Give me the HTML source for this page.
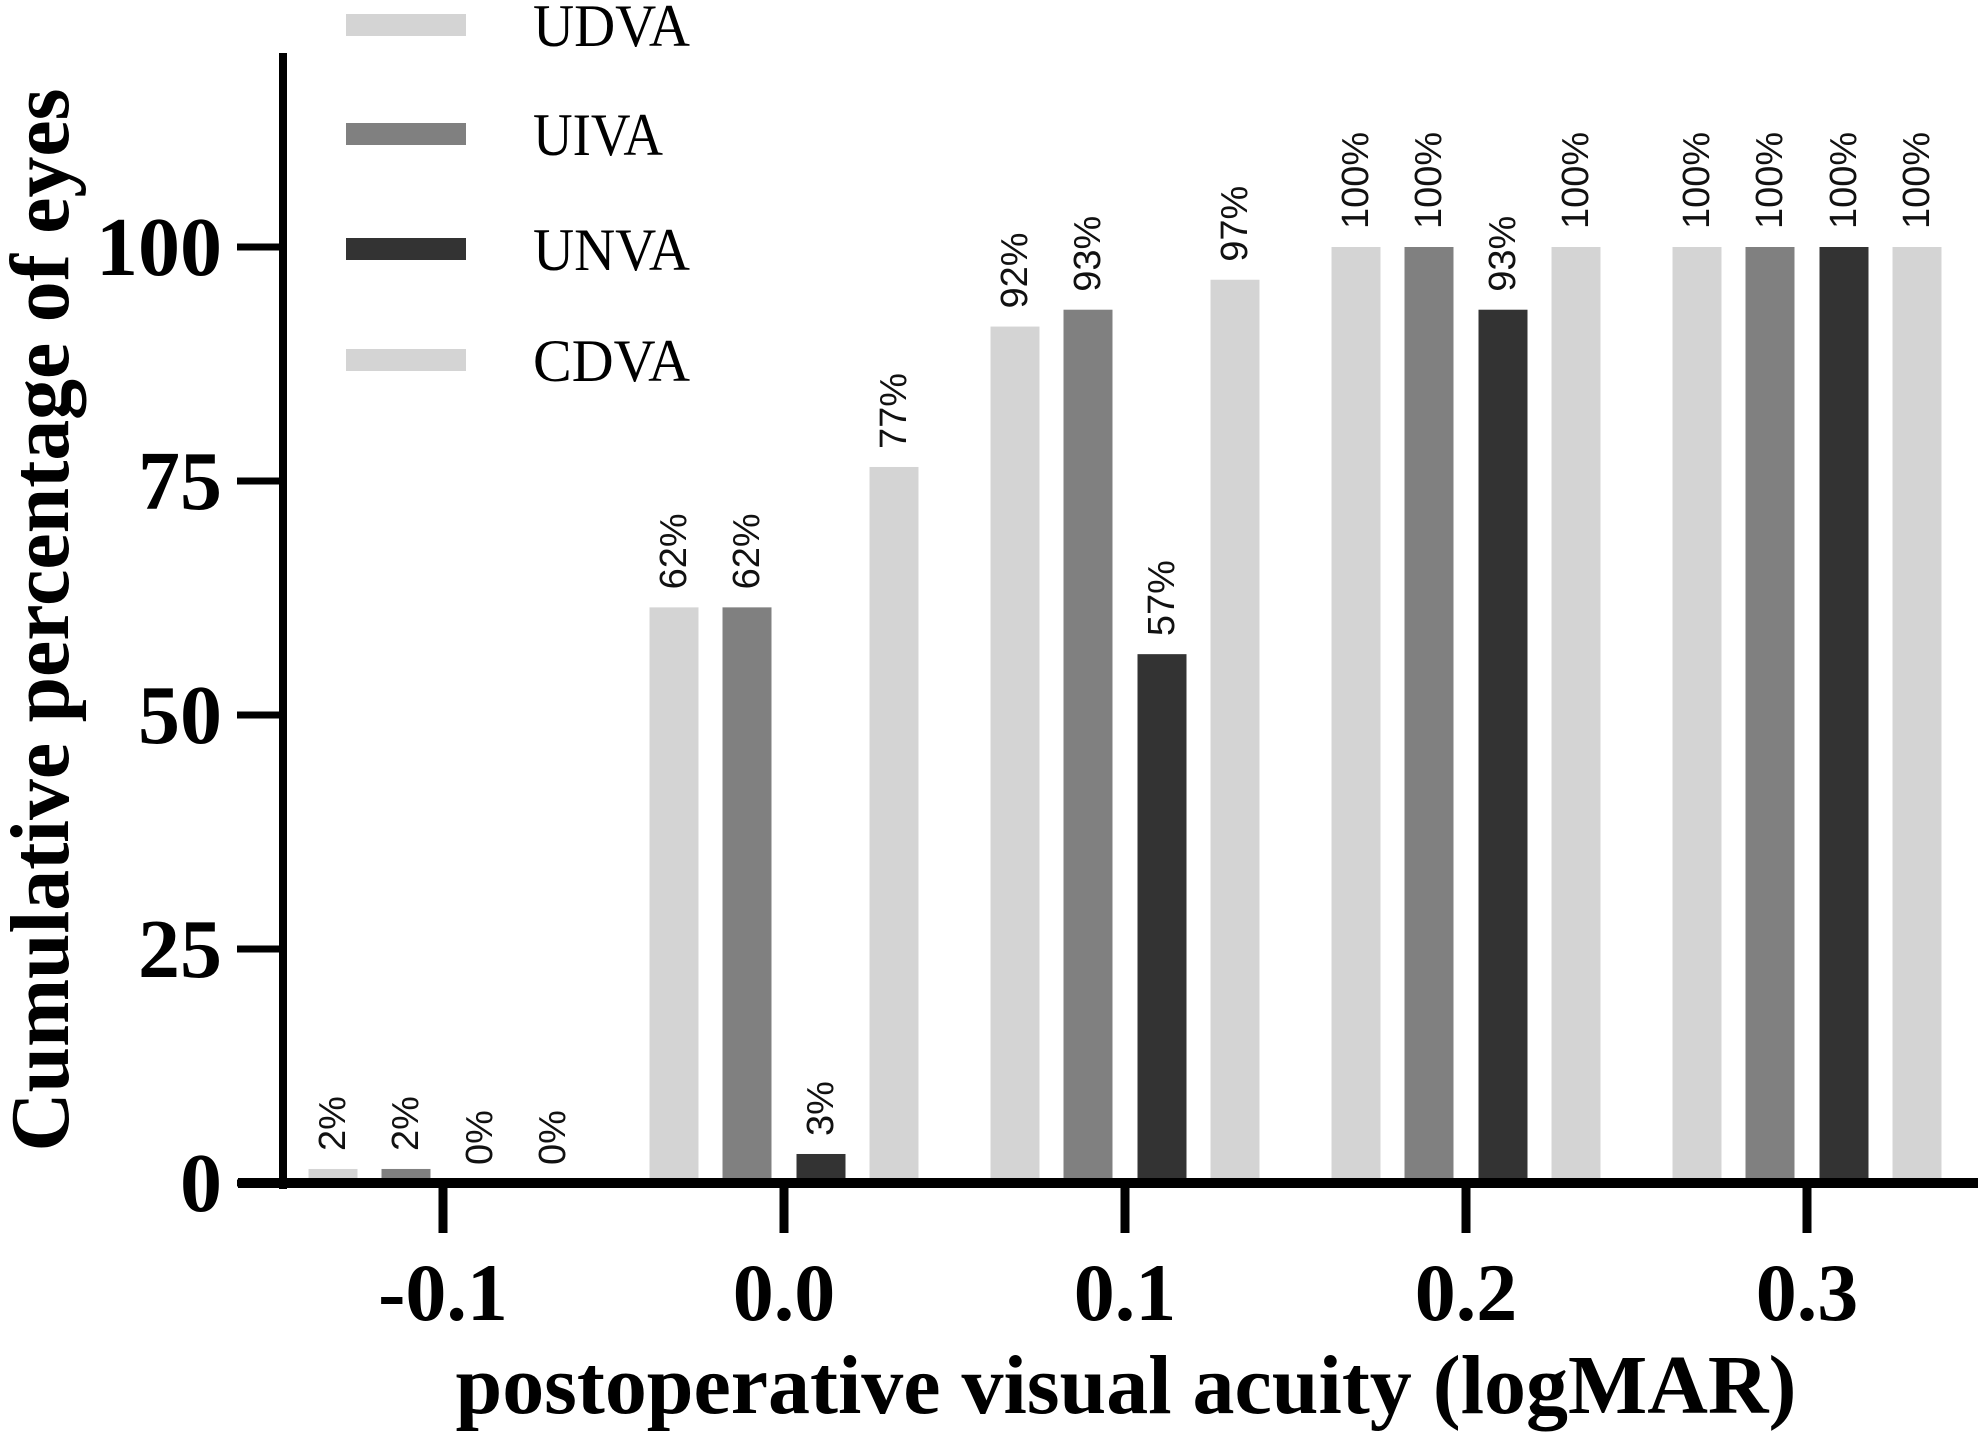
<!DOCTYPE html>
<html><head><meta charset="utf-8"><style>
html,body{margin:0;padding:0;background:#fff;}
svg{display:block;}
</style></head><body>
<svg id="chart" width="1983" height="1437" viewBox="0 0 1983 1437" xmlns="http://www.w3.org/2000/svg">
<g id="bars"></g>
<g id="labels"></g>
<g id="axes"></g>
<g id="legend"></g>
<text transform="translate(68,620) rotate(-90)" text-anchor="middle" font-family="Liberation Serif, serif" font-weight="bold" font-size="84" textLength="1063" lengthAdjust="spacingAndGlyphs">Cumulative percentage of eyes</text>
<text x="1126" y="1413" text-anchor="middle" font-family="Liberation Serif, serif" font-weight="bold" font-size="84" textLength="1341" lengthAdjust="spacingAndGlyphs">postoperative visual acuity (logMAR)</text>
</svg>
<script>
const categories = ["-0.1", "0.0", "0.1", "0.2", "0.3"];
const seriesNames = ["UDVA", "UIVA", "UNVA", "CDVA"];
const udva = [1.5, 61.5, 91.5, 100, 100];
const uiva = [1.5, 61.5, 93.3, 100, 100];
const unva = [0, 3.1, 56.5, 93.3, 100];
const cdva = [0, 76.5, 96.5, 100, 100];
const yTicks = [0, 25, 50, 75, 100];

const NS = "http://www.w3.org/2000/svg";
const series = [udva, uiva, unva, cdva];
const colors = ["#d4d4d4", "#808080", "#333333", "#d4d4d4"];
const offsets = [-110, -37, 37, 110];
const barW = 49;
const y0 = 1183, yScale = 9.36;
function yPos(v){ return y0 - v * yScale; }
function xPos(i){ return 443 + i * 341; }
function mk(tag, attrs, parent){
  const e = document.createElementNS(NS, tag);
  for (const k in attrs) e.setAttribute(k, attrs[k]);
  parent.appendChild(e);
  return e;
}
const barsG = document.getElementById('bars');
const labG = document.getElementById('labels');
const axG = document.getElementById('axes');
const legG = document.getElementById('legend');

series.forEach((vals, s) => {
  vals.forEach((v, i) => {
    const cx = xPos(i) + offsets[s];
    const top = yPos(v);
    const r = mk('rect', {x: cx - barW/2, y: top, width: barW, height: Math.max(0, y0 - top), fill: colors[s]}, barsG);
    
    
    const t = mk('text', {transform: 'translate(' + cx + ',' + (top - 18) + ') rotate(-90)', 'dominant-baseline': 'central', 'font-family': 'Liberation Sans, sans-serif', 'font-size': '38', fill: '#111'}, labG);
    t.textContent = Math.round(v) + '%';
    
    
  });
});

let a = mk('line', {x1: 283, y1: 53, x2: 283, y2: 1189, stroke: '#000', 'stroke-width': 8}, axG);


a = mk('line', {x1: 238, y1: y0, x2: 1978, y2: y0, stroke: '#000', 'stroke-width': 10}, axG);


yTicks.forEach(v => {
  const y = yPos(v);
  const l = mk('line', {x1: 237, y1: y, x2: 283, y2: y, stroke: '#000', 'stroke-width': 7}, axG);
  
  
  const t = mk('text', {x: 222, y: y + 28, 'text-anchor': 'end', 'font-family': 'Liberation Serif, serif', 'font-weight': 'bold', 'font-size': '84'}, axG);
  t.textContent = v;
  
  
});
categories.forEach((c, i) => {
  const x = xPos(i);
  const l = mk('line', {x1: x, y1: y0, x2: x, y2: 1233, stroke: '#000', 'stroke-width': 9}, axG);
  
  
  const t = mk('text', {x: x, y: 1320, 'text-anchor': 'middle', 'font-family': 'Liberation Serif, serif', 'font-weight': 'bold', 'font-size': '82'}, axG);
  t.textContent = c;
  
  
});

const legY = [25, 134, 249, 360];
const legW = [157, 130, 157, 157];
seriesNames.forEach((n, s) => {
  const g = mk('g', {}, legG);
  
  
  const r = mk('rect', {x: 346, y: legY[s] - 11, width: 120, height: 22, fill: colors[s]}, g);
  
  
  const t = mk('text', {x: 533, y: legY[s] + 21, 'font-family': 'Liberation Serif, serif', 'font-size': '60', textLength: legW[s], lengthAdjust: 'spacingAndGlyphs'}, g);
  t.textContent = n;
  
  
});
</script>
</body></html>
